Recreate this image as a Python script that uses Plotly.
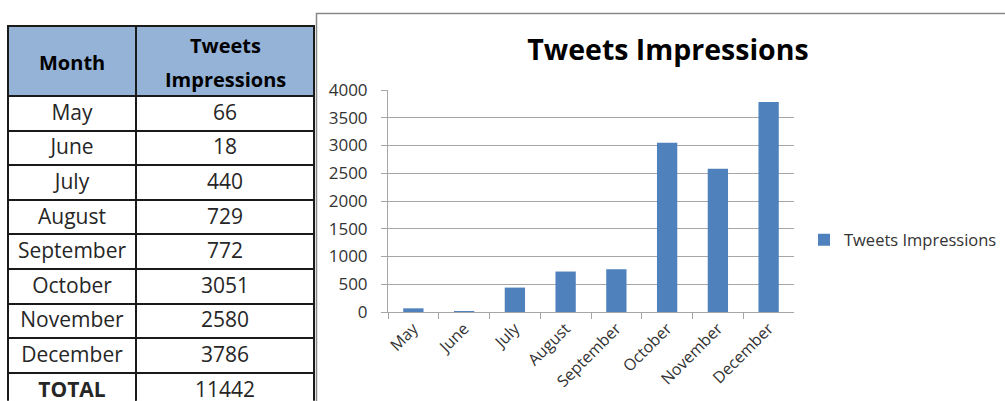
import plotly.graph_objects as go

months = ["May", "June", "July", "August", "September", "October", "November", "December"]
impressions = [66, 18, 440, 729, 772, 3051, 2580, 3786]
total_label = "TOTAL"
total_value = 11442
series_name = "Tweets Impressions"
header_month = "Month"
header_value_lines = ["Tweets", "Impressions"]
y_ticks = [0, 500, 1000, 1500, 2000, 2500, 3000, 3500, 4000]

W, H = 1005, 401
def px_x(x):
    return x / W
def px_y(y):
    return 1 - y / H

TOP, HDR, ROW = 26, 70, 34.6
body_bottom = TOP + HDR + ROW * len(months)

fig = go.Figure()

line_style = dict(color="#1a1a1a", width=2)
fig.add_trace(go.Table(
    domain=dict(x=[px_x(8), px_x(314)], y=[px_y(body_bottom), px_y(TOP)]),
    columnwidth=[128, 178],
    header=dict(
        values=["", ""],
        fill_color="#95B3D7",
        line=line_style,
        align="center",
        height=HDR,
        font=dict(family="Open Sans", size=20, color="#000000"),
    ),
    cells=dict(
        values=[months, [str(v) for v in impressions]],
        fill_color="#FFFFFF",
        line=line_style,
        align="center",
        height=ROW,
        font=dict(family="Open Sans", size=21, color="#262626"),
    ),
))

# TOTAL row
fig.add_trace(go.Table(
    domain=dict(x=[px_x(8), px_x(314)], y=[0, px_y(body_bottom)]),
    columnwidth=[128, 178],
    header=dict(
        values=[total_label, str(total_value)],
        fill_color="#FFFFFF",
        line=line_style,
        align="center",
        height=ROW,
        font=dict(family="Open Sans", size=21, color="#262626", weight=["bold", "normal"]),
    ),
    cells=dict(values=[[], []], height=ROW, line=line_style),
))

fig.add_trace(go.Bar(
    x=months, y=impressions, name=series_name,
    marker=dict(color="#4F81BD", line=dict(width=0)),
    showlegend=True,
))

hdr_font = dict(family="Open Sans", size=20, color="#000000")
annotations = [
    dict(text="<b>" + header_month + "</b>", x=px_x(72), y=px_y(62), xref="paper", yref="paper",
         xanchor="center", yanchor="middle", showarrow=False, font=hdr_font),
    dict(text="<b>" + header_value_lines[0] + "</b>", x=px_x(225), y=px_y(45), xref="paper", yref="paper",
         xanchor="center", yanchor="middle", showarrow=False, font=hdr_font),
    dict(text="<b>" + header_value_lines[1] + "</b>", x=px_x(225), y=px_y(79), xref="paper", yref="paper",
         xanchor="center", yanchor="middle", showarrow=False, font=hdr_font),
]

fig.update_layout(
    width=W, height=H,
    margin=dict(l=0, r=0, t=0, b=0, autoexpand=False),
    paper_bgcolor="#FFFFFF",
    plot_bgcolor="#FFFFFF",
    bargap=0.6,
    font=dict(family="Open Sans", color="#333333"),
    title=dict(text="<b>Tweets Impressions</b>", x=px_x(668), xanchor="center",
               y=px_y(50), yanchor="middle", automargin=False,
               font=dict(family="Open Sans", size=28.5, color="#000000")),
    xaxis=dict(
        domain=[px_x(388), px_x(794)],
        anchor="y",
        type="category",
        automargin=False,
        tickangle=-45,
        tickson="boundaries",
        ticks="outside", ticklen=6, tickcolor="#A6A6A6",
        showline=True, linecolor="#A6A6A6", linewidth=1,
        showgrid=False,
        tickfont=dict(family="Open Sans", size=16, color="#333333"),
    ),
    yaxis=dict(
        domain=[px_y(312), px_y(90)],
        range=[0, 4000],
        automargin=False,
        tickvals=y_ticks,
        ticks="outside", ticklen=6, tickcolor="#A6A6A6",
        ticklabelstandoff=10,
        showline=True, linecolor="#A6A6A6", linewidth=1,
        showgrid=True, gridcolor="#A6A6A6", gridwidth=1,
        zeroline=False,
        tickfont=dict(family="Open Sans", size=17, color="#333333"),
    ),
    legend=dict(x=px_x(804), y=px_y(240), xanchor="left", yanchor="middle",
                itemwidth=30,
                font=dict(family="Open Sans", size=16.5, color="#333333"),
                bgcolor="rgba(0,0,0,0)"),
    annotations=annotations,
    shapes=[dict(type="rect", xref="paper", yref="paper",
                 x0=px_x(316.5), x1=px_x(1010), y0=px_y(410), y1=px_y(13.5),
                 line=dict(color="#888888", width=1.5), fillcolor="rgba(0,0,0,0)",
                 layer="below")],
)

fig.write_html("out.html")
